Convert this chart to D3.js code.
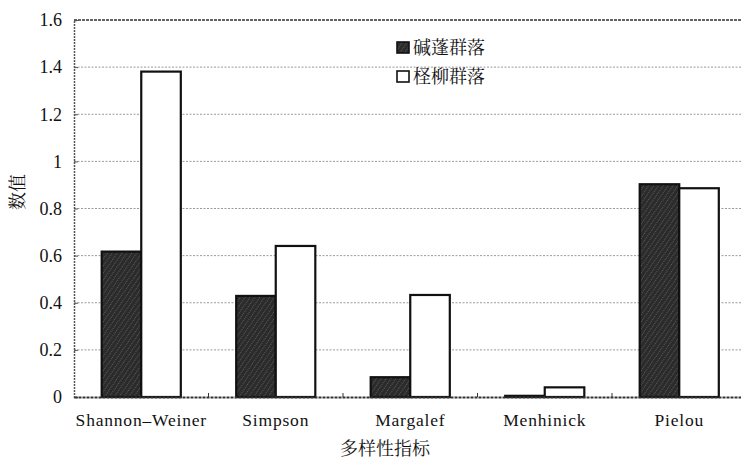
<!DOCTYPE html>
<html>
<head>
<meta charset="utf-8">
<script src="https://cdn.jsdelivr.net/npm/d3@7"></script>
<style>
  body { margin: 0; background: #fff; }
  svg { display: block; }
</style>
</head>
<body>
<script>
// Chart data
const categories = ['Shannon–Weiner', 'Simpson', 'Margalef', 'Menhinick', 'Pielou']
const seriesNames = ['碱蓬群落', '柽柳群落']
const suaedaValues = [0.617, 0.429, 0.084, 0.005, 0.903]
const tamarixValues = [1.381, 0.641, 0.433, 0.041, 0.886]
const yTicks = [0, 0.2, 0.4, 0.6, 0.8, 1, 1.2, 1.4, 1.6]

// Chart settings
const width = 741
const height = 459
const plotLeft = 74
const plotRight = 746.5
const plotTop = 20
const plotBottom = 397

const serif = '"Liberation Serif", "Times New Roman", serif'
const cjk = '"Noto Serif CJK SC", "Noto Sans CJK SC", serif'

const rows = categories.map((c, i) => ({
  category: c,
  values: [suaedaValues[i], tamarixValues[i]]
}))

const svg = d3.select('body')
  .append('svg')
  .attr('width', width)
  .attr('height', height)

// Hatched pattern for dark bars
const defs = svg.append('defs')
const pat = defs.append('pattern')
  .attr('id', 'hatch')
  .attr('patternUnits', 'userSpaceOnUse')
  .attr('width', 4)
  .attr('height', 4)
  .attr('patternTransform', 'rotate(35)')
pat.append('rect')
  .attr('width', 4)
  .attr('height', 4)
  .attr('fill', '#2b2b2b')
pat.append('line')
  .attr('x1', 0).attr('y1', 0)
  .attr('x2', 0).attr('y2', 4)
  .attr('stroke', '#8a8a8a')
  .attr('stroke-width', 1)
  .attr('stroke-dasharray', '1,1')

// Scales
const x0 = d3.scaleBand()
  .domain(categories)
  .range([plotLeft, plotRight])
  .padding(0)
const x1 = d3.scaleBand()
  .domain(seriesNames)
  .range([0, x0.bandwidth()])
  .paddingOuter(0.7)
  .paddingInner(0)
const y = d3.scaleLinear()
  .domain([0, 1.6])
  .range([plotBottom, plotTop])

// Gridlines
svg.append('g')
  .selectAll('line')
  .data(yTicks.filter(d => d > 0 && d < 1.6))
  .enter()
  .append('line')
  .attr('x1', plotLeft)
  .attr('x2', plotRight)
  .attr('y1', d => y(d))
  .attr('y2', d => y(d))
  .attr('stroke', '#9a9a9a')
  .attr('stroke-width', 1)
  .attr('stroke-dasharray', '2,1.5')

// Top border
svg.append('line')
  .attr('x1', plotLeft).attr('x2', plotRight)
  .attr('y1', y(1.6)).attr('y2', y(1.6))
  .attr('stroke', '#333')
  .attr('stroke-width', 1.5)
  .attr('stroke-dasharray', '3,1')

// Bars
const colors = ['url(#hatch)', '#fff']
const groups = svg.append('g')
  .selectAll('g')
  .data(rows)
  .enter()
  .append('g')
  .attr('transform', d => `translate(${x0(d.category)},0)`)
groups.selectAll('rect')
  .data(d => d.values.map((v, i) => ({ key: seriesNames[i], value: v, i })))
  .enter()
  .append('rect')
  .attr('x', d => x1(d.key))
  .attr('y', d => y(d.value))
  .attr('width', x1.bandwidth())
  .attr('height', d => y(0) - y(d.value))
  .attr('fill', d => colors[d.i])
  .attr('stroke', '#111')
  .attr('stroke-width', 2.2)

// Y axis
const yAxis = d3.axisLeft(y)
  .tickValues(yTicks)
  .tickFormat(d3.format('~g'))
  .tickSize(-4)
  .tickPadding(12)
const yG = svg.append('g')
  .attr('transform', `translate(${plotLeft},0)`)
  .call(yAxis)
yG.select('.domain')
  .attr('stroke', '#555')
  .attr('stroke-width', 1.5)
  .attr('stroke-dasharray', '2,1')
yG.selectAll('.tick line').attr('stroke', '#555')
yG.selectAll('.tick text')
  .style('font-family', serif)
  .style('font-size', '18px')
  .attr('fill', '#111')

// X axis
const xAxis = d3.axisBottom(x0)
  .tickSize(0)
  .tickPadding(17)
const xG = svg.append('g')
  .attr('transform', `translate(0,${plotBottom})`)
  .call(xAxis)
xG.select('.domain')
  .attr('stroke', '#333')
  .attr('stroke-width', 1.8)
  .attr('stroke-dasharray', '3,1')
xG.selectAll('.tick text')
  .style('font-family', serif)
  .style('font-size', '17.5px')
  .style('letter-spacing', '0.8px')
  .attr('fill', '#111')

// Small inner ticks between categories
svg.append('g')
  .selectAll('line')
  .data(categories.slice(1))
  .enter()
  .append('line')
  .attr('x1', d => x0(d))
  .attr('x2', d => x0(d))
  .attr('y1', plotBottom)
  .attr('y2', plotBottom - 4)
  .attr('stroke', '#333')

// Axis titles
svg.append('text')
  .attr('x', 385)
  .attr('y', 455)
  .text('多样性指标')
  .style('font-family', cjk)
  .style('font-size', '18px')
  .style('text-anchor', 'middle')
  .attr('fill', '#111')

svg.append('text')
  .attr('transform', 'translate(24,192) rotate(-90)')
  .text('数值')
  .style('font-family', cjk)
  .style('font-size', '18px')
  .style('text-anchor', 'middle')
  .attr('fill', '#111')

// Legend
const legend = svg.append('g')
  .attr('transform', 'translate(397,42)')
seriesNames.forEach((name, i) => {
  const row = legend.append('g')
    .attr('transform', `translate(0,${i * 29})`)
  row.append('rect')
    .attr('x', 0)
    .attr('y', 0)
    .attr('width', 12)
    .attr('height', 11)
    .attr('fill', colors[i])
    .attr('stroke', '#111')
    .attr('stroke-width', 1.6)
  row.append('text')
    .attr('x', 16)
    .attr('y', 12)
    .text(name)
    .style('font-family', cjk)
    .style('font-size', '18px')
    .attr('fill', '#111')
})
</script>
</body>
</html>
